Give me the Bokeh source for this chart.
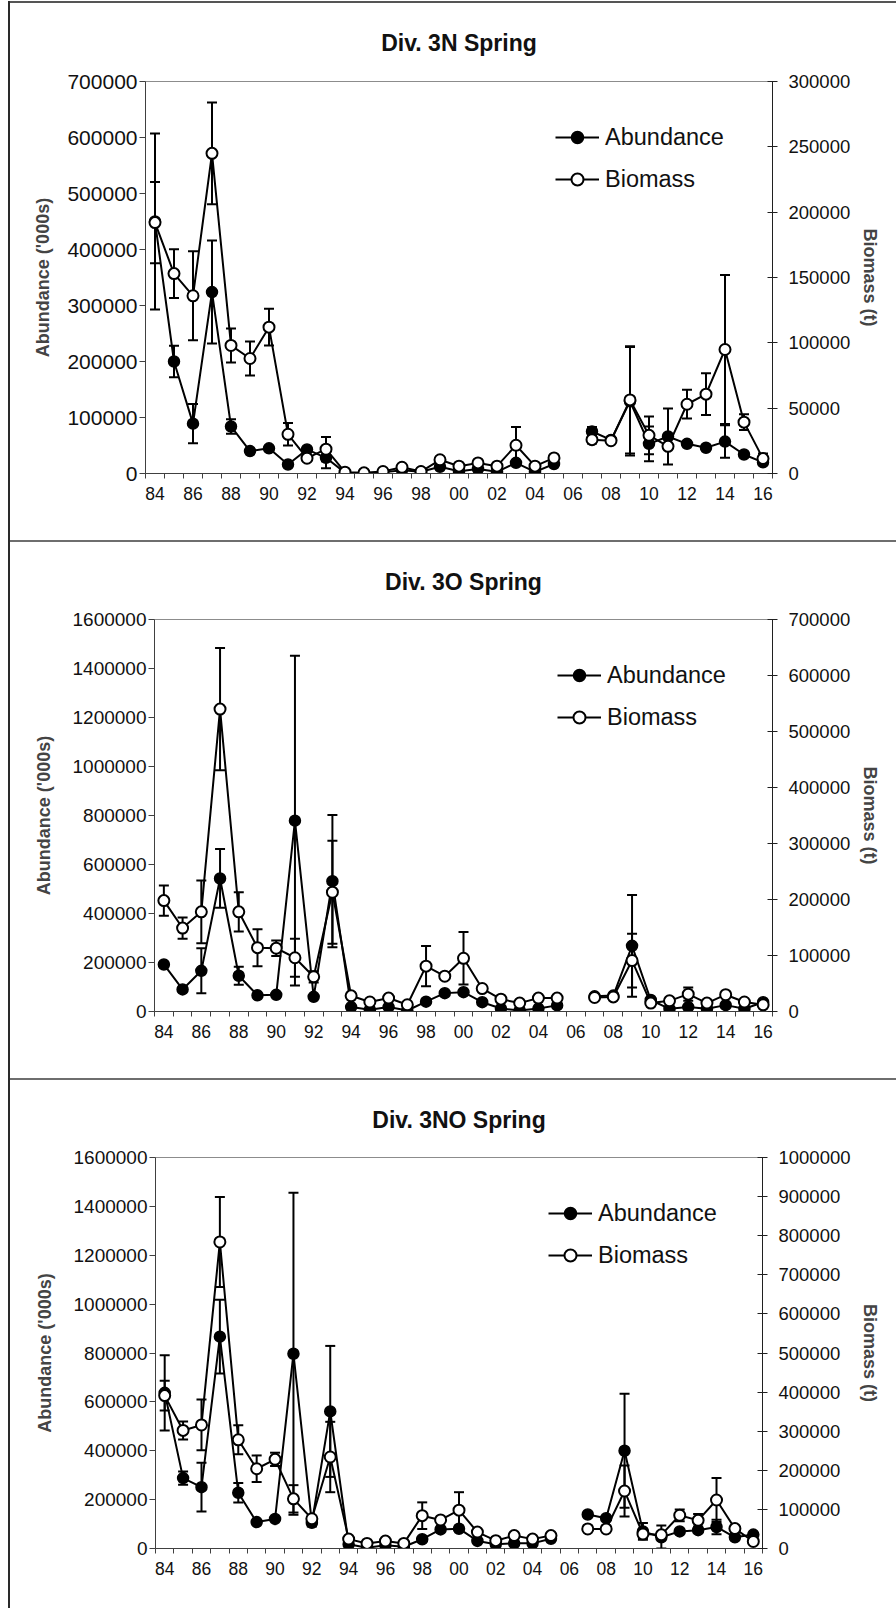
import math
from bokeh.plotting import figure
from bokeh.models import (Range1d, LinearAxis, FixedTicker, NumeralTickFormatter,
                          ColumnDataSource, Whisker, TeeHead, Legend, LegendItem)
from bokeh.embed import file_html
from bokeh.resources import INLINE

nan = float("nan")

years = ["84", "85", "86", "87", "88", "89", "90", "91", "92", "93", "94", "95",
         "96", "97", "98", "99", "00", "01", "02", "03", "04", "05", "06", "07",
         "08", "09", "10", "11", "12", "13", "14", "15", "16"]

# ---- Div. 3N Spring ----
abund_3N = [450000, 200000, 89000, 324000, 84000, 40000, 45000, 16000, 43000, 28000,
            1500, 500, 2000, 6000, 3000, 12000, 4000, 8000, 3000, 19000, 3000, 17000,
            nan, 75000, 60000, 129000, 53000, 66000, 53000, 46000, 57000, 34000, 20000]
abund_err_3N = [157000, 28000, 35000, 92000, 13000, 0, 0, 0, 0, 18600,
                0, 0, 0, 0, 0, 0, 0, 0, 0, 0, 0, 0,
                nan, 8000, 0, 97000, 31000, 50000, 0, 0, 29000, 0, 0]
bio_3N = [192000, 153000, 136000, 245000, 98000, 88000, 112000, 30000, 11700, 18600,
          1000, 500, 1500, 4800, 1500, 10500, 5600, 8100, 5600, 21600, 5600, 11900,
          nan, 25900, 25100, 56300, 29200, 20800, 53000, 60700, 94900, 39300, 11400]
bio_err_3N = [31000, 18600, 34000, 39000, 13000, 13000, 14000, 8600, 0, 9300,
              0, 0, 0, 0, 0, 0, 0, 0, 0, 14000, 0, 0,
              nan, 3000, 0, 41000, 14500, 0, 11000, 16000, 57000, 6000, 4000]

# ---- Div. 3O Spring ----
abund_3O = [192000, 90000, 166000, 543000, 146000, 66000, 68000, 779000, 60000, 532000,
            18000, 7000, 18000, 4000, 40000, 75000, 79000, 38000, 12000, 4000, 12000, 25000,
            nan, 62000, 65000, 268000, 47000, 11000, 18000, 11000, 26000, 11000, 38000]
abund_err_3O = [0, 0, 92000, 120000, 37000, 0, 0, 673000, 0, 270000,
                0, 0, 0, 0, 0, 0, 0, 0, 0, 0, 0, 0,
                nan, 0, 0, 208000, 0, 0, 0, 0, 0, 0, 0]
bio_3O = [198000, 149000, 178000, 540000, 178000, 114000, 113000, 96000, 62000, 213000,
          28000, 17000, 24000, 12000, 81000, 63000, 95000, 41000, 22000, 15000, 24000, 24000,
          nan, 25000, 26000, 91000, 15000, 19000, 31000, 15000, 30000, 17000, 12000]
bio_err_3O = [27000, 19000, 56000, 109000, 35000, 33000, 14000, 34000, 10000, 92000,
              0, 0, 0, 0, 36000, 0, 47000, 0, 0, 0, 0, 0,
              nan, 0, 0, 48000, 0, 0, 12000, 0, 0, 0, 0]

# ---- Div. 3NO Spring ----
abund_3NO = [637000, 288000, 251000, 867000, 228000, 108000, 121000, 797000, 105000, 561000,
             17000, 3000, 13000, 7000, 38000, 78000, 81000, 31000, 17000, 21000, 21000, 40000,
             nan, 139000, 124000, 400000, 70000, 46000, 70000, 75000, 88000, 46000, 57000]
abund_err_3NO = [154000, 27000, 100000, 151000, 40000, 0, 0, 659000, 15000, 268000,
                 0, 0, 0, 0, 0, 0, 0, 0, 0, 0, 0, 0,
                 nan, 0, 0, 233000, 34000, 48000, 0, 0, 30000, 0, 0]
bio_3NO = [391000, 302000, 316000, 784000, 278000, 204000, 228000, 127000, 76000, 234000,
           24000, 13000, 19000, 13000, 84000, 73000, 98000, 42000, 20000, 33000, 24000, 33000,
           nan, 50000, 50000, 147000, 37000, 35000, 85000, 72000, 124000, 51000, 18000]
bio_err_3NO = [38000, 23000, 65000, 115000, 37000, 34000, 17000, 35000, 0, 90000,
               0, 0, 0, 0, 34000, 0, 46000, 0, 0, 0, 0, 0,
               nan, 0, 0, 65000, 10000, 0, 15000, 16000, 56000, 0, 0]

FONT = "Liberation Sans"


def err_source(vals, errs):
    base, up, lo = [], [], []
    for i, (v, e) in enumerate(zip(vals, errs)):
        if math.isnan(v) or math.isnan(e) or e <= 0:
            continue
        base.append(i)
        up.append(v + e)
        lo.append(max(v - e, 0))
    return ColumnDataSource(dict(base=base, upper=up, lower=lo))


def panel(title, abund, abund_err, bio, bio_err, left_max, left_step, right_max, right_step,
          frame, mb, left_font, title_offset, title_standoff, legend_xy, shadow, margin,
          left_label_standoff, right_label_standoff):
    x = list(range(len(years)))
    fw, fh = frame
    p = figure(width=mb[0] + fw + mb[1], height=mb[2] + fh + mb[3],
               frame_width=fw, frame_height=fh, margin=margin,
               output_backend="svg", toolbar_location=None,
               x_range=Range1d(-0.5, len(years) - 0.5), y_range=Range1d(0, left_max),
               min_border_left=mb[0], min_border_right=mb[1], min_border_top=mb[2],
               min_border_bottom=mb[3], background_fill_color="white",
               border_fill_color=None, outline_line_color="#8c8c8c", outline_line_width=1)
    p.styles = {"box-shadow": shadow}
    p.extra_y_ranges = {"bio": Range1d(0, right_max)}
    p.xgrid.visible = False
    p.ygrid.visible = False

    # title
    p.title.text = title
    p.title.align = "center"
    p.title.text_font = FONT
    p.title.text_font_style = "bold"
    p.title.text_font_size = "23px"
    p.title.text_color = "#111111"
    p.title.standoff = title_standoff
    p.title.offset = title_offset

    # x axis
    xa = p.xaxis[0]
    xa.ticker = FixedTicker(ticks=list(range(0, len(years), 2)),
                            minor_ticks=[i - 0.5 for i in range(len(years) + 1)])
    xa.major_label_overrides = {i: years[i] for i in range(0, len(years), 2)}
    xa.major_tick_out = 0
    xa.major_tick_in = 0
    xa.minor_tick_out = 5
    xa.minor_tick_in = 0
    xa.major_label_standoff = 8
    xa.major_label_text_font = FONT
    xa.major_label_text_font_size = "17.5px"
    xa.major_label_text_color = "#111111"
    xa.axis_line_color = "#404040"
    xa.minor_tick_line_color = "#404040"

    # left axis
    ya = p.yaxis[0]
    ya.ticker = FixedTicker(ticks=list(range(0, left_max + 1, left_step)), minor_ticks=[])
    ya.formatter = NumeralTickFormatter(format="0")
    ya.major_tick_out = 6
    ya.major_tick_in = 0
    ya.minor_tick_out = 0
    ya.minor_tick_in = 0
    ya.major_label_standoff = 2
    ya.major_label_text_font = FONT
    ya.major_label_text_font_size = left_font
    ya.major_label_text_color = "#111111"
    ya.axis_label = "Abundance ('000s)"
    ya.axis_label_text_font = FONT
    ya.axis_label_text_font_style = "bold"
    ya.axis_label_text_font_size = "18px"
    ya.axis_label_standoff = left_label_standoff
    ya.axis_line_color = "#404040"
    ya.major_tick_line_color = "#404040"

    # right axis
    ra = LinearAxis(y_range_name="bio")
    ra.ticker = FixedTicker(ticks=list(range(0, right_max + 1, right_step)), minor_ticks=[])
    ra.formatter = NumeralTickFormatter(format="0")
    ra.major_tick_out = 5
    ra.major_tick_in = 5
    ra.minor_tick_out = 0
    ra.minor_tick_in = 0
    ra.major_label_standoff = 11
    ra.major_label_text_font = FONT
    ra.major_label_text_font_size = "18.5px"
    ra.major_label_text_color = "#111111"
    ra.axis_label = "Biomass (t)"
    ra.axis_label_text_font = FONT
    ra.axis_label_text_font_style = "bold"
    ra.axis_label_text_font_size = "18px"
    ra.axis_label_standoff = right_label_standoff
    ra.axis_line_color = "#202020"
    ra.major_tick_line_color = "#202020"
    p.add_layout(ra, "right")

    # abundance series
    p.add_layout(Whisker(source=err_source(abund, abund_err), base="base", upper="upper",
                         lower="lower", line_color="black", line_width=2,
                         upper_head=TeeHead(size=10, line_width=2, line_color="black"),
                         lower_head=TeeHead(size=10, line_width=2, line_color="black")))
    la = p.line(x, abund, line_color="black", line_width=2)
    sa = p.scatter(x, abund, marker="circle", size=11, fill_color="black", line_color="black",
                   line_width=1.5)

    # biomass series
    p.add_layout(Whisker(source=err_source(bio, bio_err), base="base", upper="upper",
                         lower="lower", y_range_name="bio", line_color="black", line_width=2,
                         upper_head=TeeHead(size=10, line_width=2, line_color="black"),
                         lower_head=TeeHead(size=10, line_width=2, line_color="black")))
    lb = p.line(x, bio, line_color="black", line_width=2, y_range_name="bio")
    sb = p.scatter(x, bio, marker="circle", size=11, fill_color="white", line_color="black",
                   line_width=2, y_range_name="bio")

    leg = Legend(items=[LegendItem(label="Abundance", renderers=[la, sa]),
                        LegendItem(label="Biomass", renderers=[lb, sb])],
                 location=legend_xy, orientation="vertical", border_line_color=None,
                 background_fill_alpha=0, padding=0, margin=0, spacing=12,
                 glyph_width=44, glyph_height=30, label_height=30, label_standoff=6,
                 label_text_font=FONT, label_text_font_size="23.5px",
                 label_text_color="#111111")
    p.add_layout(leg)
    return p


SH_LEFT = "inset 2px 0 0 #2a2a2a"
SH_TOP = "inset 0 2px 0 #555555"
SH_BOTTOM = "inset 0 -2px 0 #6e6e6e"

p1 = panel("Div. 3N Spring", abund_3N, abund_err_3N, bio_3N, bio_err_3N,
           700000, 100000, 300000, 50000, (627, 392), (137, 124, 80, 69), "21px",
           2.5, 52, (410, 279), ", ".join([SH_LEFT, SH_TOP, SH_BOTTOM]), (1, 0, 0, 8), 11, 7)
p2 = panel("Div. 3O Spring", abund_3O, abund_err_3O, bio_3O, bio_err_3O,
           1600000, 200000, 700000, 100000, (618, 392), (146, 124, 77, 69), "19px",
           -3, 49, (403, 279), ", ".join([SH_LEFT, SH_BOTTOM]), (0, 0, 0, 8), 16, 7)
p3 = panel("Div. 3NO Spring", abund_3NO, abund_err_3NO, bio_3NO, bio_err_3NO,
           1600000, 200000, 1000000, 100000, (607, 391), (147, 134, 77, 60), "19px",
           12, 49, (393, 278), SH_LEFT, (0, 0, 0, 8), 16, 6)

open("out.html", "w").write(file_html([p1, p2, p3], INLINE))
